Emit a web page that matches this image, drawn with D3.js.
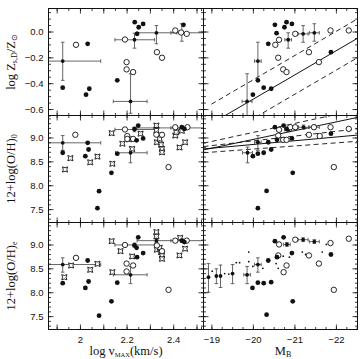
<!DOCTYPE html>
<html lang="en">
<head>
<meta charset="UTF-8" />
<title>Metallicity panels</title>
<script src="https://d3js.org/d3.v7.min.js"></script>
<style>
  body { margin: 0; background: #fff; }
  .tick text { font-family: "Liberation Sans", Arial, sans-serif; font-size: 9.5px; fill: #111; }
  .ttl { font-family: "Liberation Serif", "Times New Roman", serif; font-size: 12.5px; fill: #111; }
</style>
</head>
<body>
<svg id="chart" width="363" height="359"></svg>
<script>
// ---- data ----
// panel 1: log vmax vs log Z
const p1Filled = [[2.033,-0.095],[1.926,-0.435],[2.026,-0.489],[2.04,-0.443],[2.16,-0.378],[2.235,0.072],[2.252,0.033],[2.271,0.059],[2.245,-0.018],[2.444,0.052]];
const p1Open = [[1.983,-0.103],[2.2,-0.237],[2.2,-0.293],[2.228,-0.314],[2.193,-0.062],[2.33,-0.16],[2.352,-0.203],[2.409,0.008],[2.434,-0.008],[2.458,-0.018]];
// [x, y, xlo, xhi, ylo, yhi]
const p1Err = [[1.926,-0.229,1.86,2.089,-0.378,-0.083],[2.217,-0.541,2.143,2.288,-0.633,-0.327],[2.234,-0.064,2.15,2.32,-0.129,-0.013],[2.328,-0.01,2.245,2.416,-0.095,0.046],[2.437,-0.01,2.39,2.53,-0.075,0.06]];

// panel 2: M_B vs log Z
const p2Filled = [[-20.53,0.052],[-20.57,-0.013],[-20.76,0.033],[-20.81,0.072],[-20.94,0.059],[-20.37,-0.095],[-21.88,-0.16],[-20.12,-0.378],[-20.0,-0.489],[-20.26,-0.435],[-20.44,-0.443]];
const p2Open = [[-20.54,-0.103],[-20.63,-0.064],[-21.02,-0.018],[-21.87,0.008],[-22.31,0.008],[-21.35,-0.16],[-21.59,-0.237],[-20.61,-0.203],[-20.73,-0.293],[-20.81,-0.314]];
const p2Err = [[-20.85,-0.064,-20.77,-20.93,-0.129,-0.01],[-21.21,-0.018,-21.09,-21.33,-0.083,0.046],[-21.48,-0.01,-21.36,-21.6,-0.075,0.06],[-20.12,-0.229,-20.04,-20.2,-0.384,-0.083],[-19.86,-0.541,-19.74,-19.98,-0.66,-0.327]];
const p2Fit = [[-19.0,-0.7125],[-22.6,-0.0375]];
const p2Offsets = [0.15,-0.15];

// panel 3: log vmax vs 12+log(O/H)_0
const p3Filled = [[1.926,8.68],[2.033,8.888],[2.037,8.748],[2.023,8.608],[2.082,7.875],[2.075,7.52],[2.135,8.26],[2.16,8.66],[2.243,8.94],[2.271,8.98],[2.25,9.25],[2.234,9.18],[2.437,9.215],[2.448,9.18]];
const p3Open = [[1.98,9.056],[2.203,9.03],[2.203,8.97],[2.228,8.97],[2.193,9.167],[2.328,9.06],[2.352,9.056],[2.38,8.38],[2.409,9.215],[2.461,9.215]];
const p3Star = [[1.959,8.566],[1.936,8.33],[2.044,8.48],[2.075,8.6],[2.139,8.45],[2.136,9.09],[2.182,8.87],[2.21,8.96],[2.224,8.76],[2.26,9.08],[2.328,9.25],[2.328,9.15],[2.33,8.9],[2.342,8.97],[2.348,8.85],[2.352,8.76],[2.352,8.69],[2.409,9.04],[2.413,9.11],[2.427,8.79],[2.451,8.9],[2.437,9.14]];
const p3Err = [[1.926,8.888,1.86,2.089,8.73,9.04],[2.217,8.68,2.153,2.288,8.47,8.8],[2.234,9.167,2.15,2.32,9.12,9.21],[2.328,9.2,2.245,2.416,9.15,9.25],[2.437,9.2,2.39,2.53,9.17,9.23]];

// panel 4: M_B vs 12+log(O/H)_0
const p4Filled = [[-20.53,9.215],[-20.74,9.25],[-20.81,9.18],[-20.58,8.95],[-20.94,8.98],[-21.88,9.08],[-20.37,8.9],[-20.44,8.748],[-20.26,8.68],[-20.12,8.66],[-20.0,8.608],[-20.96,8.26],[-20.33,7.88],[-20.12,7.52]];
const p4Open = [[-20.63,9.16],[-20.9,9.215],[-21.02,9.215],[-21.47,9.215],[-21.87,9.215],[-22.31,9.18],[-20.61,9.04],[-20.73,8.95],[-20.81,8.95],[-21.35,9.056],[-21.61,9.03],[-21.95,8.38]];
const p4Err = [[-20.85,9.16,-20.77,-20.93,9.12,9.2],[-21.22,9.215,-21.1,-21.34,9.17,9.26],[-21.48,9.215,-21.36,-21.6,9.17,9.26],[-20.12,8.9,-20.04,-20.2,8.73,9.04],[-19.87,8.68,-19.75,-19.99,8.47,8.8]];
const p4Solid = [[[-18.81,8.76],[-22.52,9.05]],[[-18.81,8.74],[-22.52,9.42]]];
const p4Dashed = [[[-18.81,8.68],[-22.52,8.92]],[[-18.81,8.81],[-22.52,9.18]],[[-18.81,8.88],[-22.52,9.58]]];

// panel 5: log vmax vs 12+log(O/H)_e
const p5Filled = [[1.926,8.19],[2.033,8.665],[2.037,8.225],[2.023,8.09],[2.082,7.51],[2.135,7.81],[2.16,8.2],[2.234,8.98],[2.25,9.15],[2.243,8.93],[2.245,8.735],[2.271,8.82],[2.437,9.08],[2.448,9.05]];
const p5Open = [[1.983,8.72],[2.193,8.99],[2.2,8.6],[2.2,8.435],[2.228,8.56],[2.33,8.98],[2.352,8.86],[2.38,8.05],[2.409,9.08],[2.458,9.08]];
const p5Star = [[1.962,8.56],[1.933,8.315],[2.044,8.47],[2.075,8.595],[2.139,8.42],[2.136,9.07],[2.174,8.86],[2.224,8.75],[2.328,9.26],[2.328,9.17],[2.33,8.89],[2.342,8.93],[2.348,8.84],[2.352,8.77],[2.352,8.7],[2.427,8.77],[2.451,8.91],[2.43,9.14]];
const p5Err = [[1.926,8.58,1.86,2.089,8.42,8.72],[2.217,8.365,2.143,2.288,8.18,8.54],[2.234,8.99,2.15,2.32,8.95,9.03],[2.328,9.08,2.245,2.416,9.04,9.12],[2.437,9.08,2.39,2.53,9.05,9.11]];

// panel 6: M_B vs 12+log(O/H)_e
const p6Filled = [[-20.53,9.07],[-20.74,9.15],[-20.94,8.82],[-20.58,8.735],[-21.88,8.79],[-20.37,8.665],[-20.44,8.21],[-20.26,8.19],[-20.12,8.2],[-19.99,8.09],[-20.96,7.81],[-20.33,7.53]];
const p6Open = [[-20.63,9.0],[-21.02,9.1],[-21.87,9.03],[-22.31,9.12],[-20.61,8.77],[-21.35,8.77],[-21.59,8.6],[-20.81,8.56],[-20.74,8.42],[-21.95,8.05]];
const p6Err = [[-20.82,9.0,-20.74,-20.9,8.96,9.04],[-21.21,9.1,-21.09,-21.33,9.06,9.14],[-21.48,9.06,-21.36,-21.6,9.02,9.1],[-18.93,8.315,-18.93,-18.93,8.0,8.6],[-19.12,8.34,-19.12,-19.12,8.18,8.49],[-19.22,8.34,-19.22,-19.22,8.1,8.57],[-19.51,8.39,-19.51,-19.51,8.18,8.58],[-19.86,8.365,-19.78,-19.94,8.18,8.54],[-20.12,8.58,-20.04,-20.2,8.42,8.72]];
const p6Tiny = [[-19.02,8.44],[-19.32,8.39],[-19.42,8.38],[-19.6,8.62],[-19.68,8.62],[-19.9,8.84],[-19.9,8.64],[-20.0,8.54],[-20.24,8.5],[-20.56,8.6],[-20.61,8.5],[-20.73,8.755],[-20.88,8.735],[-21.19,8.84],[-21.27,8.79],[-21.67,8.84],[-21.77,9.0]];

// ---- layout ----
const svg = d3.select("#chart");
const colX = [48.5, 203.5, 357.5];
const rowY = [8.5, 115.5, 222.5, 329.5];

const xV = d3.scaleLinear().domain([1.865, 2.53]).range([colX[0], colX[1]]);
const xM = d3.scaleLinear().domain([-18.81, -22.52]).range([colX[1], colX[2]]);
const yZ = d3.scaleLinear().domain([-0.65, 0.178]).range([rowY[1], rowY[0]]);
const yO1 = d3.scaleLinear().domain([7.22, 9.46]).range([rowY[2], rowY[1]]);
const yO2 = d3.scaleLinear().domain([7.22, 9.46]).range([rowY[3], rowY[2]]);

const rng = (a, b, s) => d3.range(Math.round(a / s), Math.round(b / s) + 1).map(k => +(k * s).toFixed(3));

const xVMajor = rng(1.9, 2.5, 0.1), xVMinor = rng(1.9, 2.5, 0.05);
const xVLabels = [2, 2.2, 2.4];
const xMMajor = [-19, -20, -21, -22], xMMinor = rng(-22.5, -18.75, 0.25);
const yZMajor = [0, -0.2, -0.4, -0.6], yZMinor = rng(-0.65, 0.15, 0.05);
const yOMajor = [7.5, 8.0, 8.5, 9.0], yOMinor = rng(7.3, 9.4, 0.1);

const starPath = (s) => `M${-s},${-s}Q0,${-s * 0.35} ${s},${-s}Q${s * 0.35},0 ${s},${s}Q0,${s * 0.35} ${-s},${s}Q${-s * 0.35},0 ${-s},${-s}Z`;

function frameAxes(x, y, xt, yt, showX, showY) {
  const g = svg.append("g");
  const [x0, x1] = x.range(), [y1, y0] = y.range();
  const add = (axis, tr) => {
    const a = g.append("g").attr("transform", tr).call(axis);
    a.select(".domain").remove();
    a.selectAll("line").attr("stroke", "#111").attr("stroke-width", 0.8);
  };
  const fmtX = showX ? xt.fmt : () => "";
  const fmtY = showY ? yt.fmt : () => "";
  add(d3.axisBottom(x).tickValues(xt.major).tickSize(-5).tickPadding(7).tickFormat(fmtX), `translate(0,${y1})`);
  add(d3.axisBottom(x).tickValues(xt.minor).tickSize(-2.5).tickFormat(""), `translate(0,${y1})`);
  add(d3.axisTop(x).tickValues(xt.major).tickSize(-5).tickFormat(""), `translate(0,${y0})`);
  add(d3.axisTop(x).tickValues(xt.minor).tickSize(-2.5).tickFormat(""), `translate(0,${y0})`);
  add(d3.axisLeft(y).tickValues(yt.major).tickSize(-5).tickPadding(5).tickFormat(fmtY), `translate(${x0},0)`);
  add(d3.axisLeft(y).tickValues(yt.minor).tickSize(-2.5).tickFormat(""), `translate(${x0},0)`);
  add(d3.axisRight(y).tickValues(yt.major).tickSize(-5).tickFormat(""), `translate(${x1},0)`);
  add(d3.axisRight(y).tickValues(yt.minor).tickSize(-2.5).tickFormat(""), `translate(${x1},0)`);
  g.append("rect").attr("x", x0).attr("y", y0).attr("width", x1 - x0).attr("height", y1 - y0)
    .attr("fill", "none").attr("stroke", "#111").attr("stroke-width", 1);
}

let clipId = 0;
function panel(x, y, d) {
  const id = "clip" + (clipId++);
  const [x0, x1] = x.range(), [y1, y0] = y.range();
  svg.append("clipPath").attr("id", id).append("rect")
    .attr("x", x0).attr("y", y0).attr("width", x1 - x0).attr("height", y1 - y0);
  const g = svg.append("g").attr("clip-path", `url(#${id})`);
  const line = d3.line().x(p => x(p[0])).y(p => y(p[1]));

  (d.solid || []).forEach(l => g.append("path").attr("d", line(l)).attr("fill", "none").attr("stroke", "#111").attr("stroke-width", 1));
  (d.dashed || []).forEach(l => g.append("path").attr("d", line(l)).attr("fill", "none").attr("stroke", "#111").attr("stroke-width", 0.9).attr("stroke-dasharray", "5,3.5"));

  const e = g.selectAll(".err").data(d.err || []).join("g").attr("stroke", "#555").attr("stroke-width", 0.9);
  e.append("line").attr("x1", p => x(p[2])).attr("x2", p => x(p[3])).attr("y1", p => y(p[1])).attr("y2", p => y(p[1]));
  e.append("line").attr("x1", p => x(p[0])).attr("x2", p => x(p[0])).attr("y1", p => y(p[4])).attr("y2", p => y(p[5]));
  e.append("line").attr("x1", p => x(p[0]) - 1.8).attr("x2", p => x(p[0]) + 1.8).attr("y1", p => y(p[4])).attr("y2", p => y(p[4]));
  e.append("line").attr("x1", p => x(p[0]) - 1.8).attr("x2", p => x(p[0]) + 1.8).attr("y1", p => y(p[5])).attr("y2", p => y(p[5]));
  e.filter(p => p[2] !== p[3]).append("line").attr("x1", p => x(p[2])).attr("x2", p => x(p[2])).attr("y1", p => y(p[1]) - 1.8).attr("y2", p => y(p[1]) + 1.8);
  e.filter(p => p[2] !== p[3]).append("line").attr("x1", p => x(p[3])).attr("x2", p => x(p[3])).attr("y1", p => y(p[1]) - 1.8).attr("y2", p => y(p[1]) + 1.8);
  e.append("circle").attr("cx", p => x(p[0])).attr("cy", p => y(p[1])).attr("r", 1.9).attr("fill", "#111").attr("stroke", "none");

  g.selectAll(".tiny").data(d.tiny || []).join("circle")
    .attr("cx", p => x(p[0])).attr("cy", p => y(p[1])).attr("r", 0.9).attr("fill", "#111");
  g.selectAll(".star").data(d.star || []).join("path")
    .attr("transform", p => `translate(${x(p[0])},${y(p[1])})`).attr("d", starPath(2.6))
    .attr("fill", "#fff").attr("stroke", "#111").attr("stroke-width", 0.9);
  g.selectAll(".open").data(d.open || []).join("circle")
    .attr("cx", p => x(p[0])).attr("cy", p => y(p[1])).attr("r", 2.7)
    .attr("fill", "#fff").attr("stroke", "#111").attr("stroke-width", 0.9);
  g.selectAll(".filled").data(d.filled || []).join("circle")
    .attr("cx", p => x(p[0])).attr("cy", p => y(p[1])).attr("r", 2.4).attr("fill", "#111");
}

const fmtV = v => (v === 2 ? "2" : d3.format(".1f")(v));
const tV = { major: xVMajor, minor: xVMinor, fmt: v => (xVLabels.includes(v) ? fmtV(v) : "") };
const tM = { major: xMMajor, minor: xMMinor, fmt: d3.format("d") };
const tZ = { major: yZMajor, minor: yZMinor, fmt: d3.format(".1f") };
const tO = { major: yOMajor, minor: yOMinor, fmt: d3.format(".1f") };

const fitOff = p2Offsets.map(o => p2Fit.map(p => [p[0], p[1] + o]));

panel(xV, yZ, { filled: p1Filled, open: p1Open, err: p1Err });
panel(xM, yZ, { filled: p2Filled, open: p2Open, err: p2Err, solid: [p2Fit], dashed: fitOff });
panel(xV, yO1, { filled: p3Filled, open: p3Open, star: p3Star, err: p3Err });
panel(xM, yO1, { filled: p4Filled, open: p4Open, err: p4Err, solid: p4Solid, dashed: p4Dashed });
panel(xV, yO2, { filled: p5Filled, open: p5Open, star: p5Star, err: p5Err });
panel(xM, yO2, { filled: p6Filled, open: p6Open, err: p6Err, tiny: p6Tiny });

frameAxes(xV, yZ, tV, tZ, false, true);
frameAxes(xM, yZ, tM, tZ, false, false);
frameAxes(xV, yO1, tV, tO, false, true);
frameAxes(xM, yO1, tM, tO, false, false);
frameAxes(xV, yO2, tV, tO, true, true);
frameAxes(xM, yO2, tM, tO, true, false);

// ---- axis titles ----
function ylab(cy, parts) {
  const t = svg.append("text").attr("class", "ttl")
    .attr("transform", `translate(15,${cy}) rotate(-90)`).attr("text-anchor", "middle");
  parts.forEach(([s, sub]) => {
    t.append("tspan").text(s)
      .attr("font-size", sub ? "8px" : null)
      .attr("baseline-shift", sub ? "-25%" : null);
  });
}
ylab(62, [["log Z"], ["s,D", 1], ["/Z"], ["\u2299", 1]]);
ylab(169, [["12+log(O/H)"], ["0", 1]]);
ylab(276, [["12+log(O/H)"], ["e", 1]]);

const xl1 = svg.append("text").attr("class", "ttl").attr("x", 126).attr("y", 355).attr("text-anchor", "middle");
xl1.append("tspan").text("log v");
xl1.append("tspan").text("MAX").attr("font-size", "6.5px").attr("baseline-shift", "-25%");
xl1.append("tspan").text("(km/s)");

const xl2 = svg.append("text").attr("class", "ttl").attr("x", 283).attr("y", 355).attr("text-anchor", "middle");
xl2.append("tspan").text("M");
xl2.append("tspan").text("B").attr("font-size", "8px").attr("baseline-shift", "-25%");
</script>
</body>
</html>
